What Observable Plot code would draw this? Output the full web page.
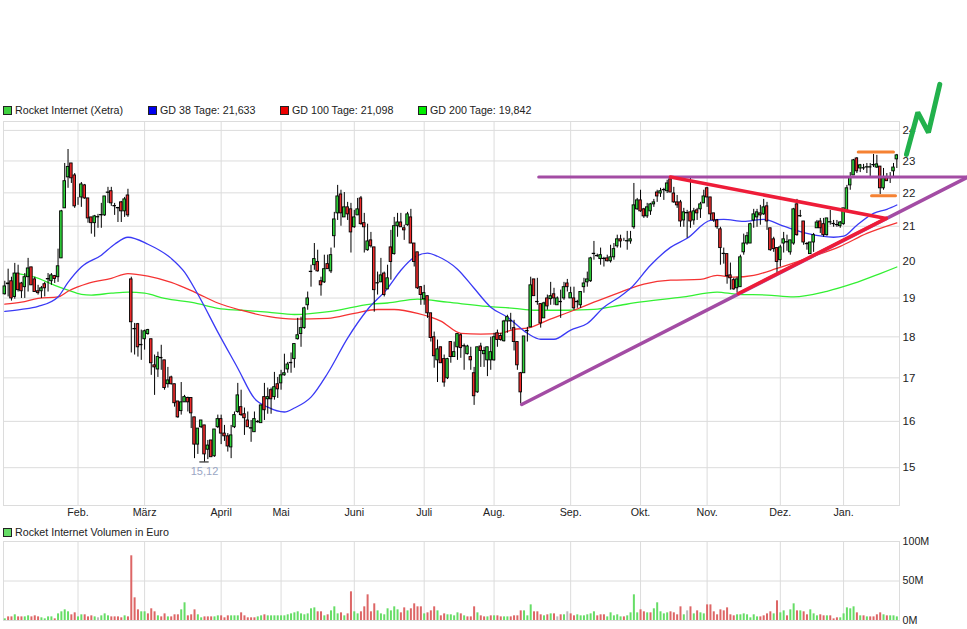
<!DOCTYPE html>
<html>
<head>
<meta charset="utf-8">
<script src="https://cdn.jsdelivr.net/npm/d3@7"></script>
<script src="https://cdn.jsdelivr.net/npm/@observablehq/plot@0.6"></script>
<style>
html,body{margin:0;padding:0;background:#fff;width:967px;height:629px;overflow:hidden;font-family:"Liberation Sans",Arial,sans-serif;}
#stage{position:relative;width:967px;height:629px;}
#priceChart,#volumeChart{position:absolute;left:0;}
#priceChart{top:70px;}
#volumeChart{top:535px;}
.legend{position:absolute;font-size:10.7px;line-height:14px;color:#222;white-space:nowrap;}
.legend i{position:absolute;left:0;top:3px;width:7px;height:7px;border:1px solid #222;}
.legend span{position:absolute;left:12px;top:0;}
</style>
</head>
<body>
<div id="stage">
<div id="priceChart"></div>
<div id="volumeChart"></div>
<div id="legends"></div>
</div>
<script>
// Each row: open, high, low, close
const candlesJan = [[19.10,19.45,19.08,19.31],[19.37,19.78,19.03,19.39],[19.45,19.56,18.92,18.99],[19.03,19.94,18.97,19.66],[19.66,19.89,19.16,19.21],[19.39,19.42,18.99,19.18],[19.29,19.66,18.99,19.56],[19.56,20.08,19.16,19.80],[19.83,19.83,19.34,19.34],[19.50,19.56,19.16,19.16],[19.18,19.34,19.08,19.13],[19.18,19.31,18.99,19.26],[19.37,19.42,19.03,19.26],[19.50,19.66,19.16,19.51],[19.45,19.66,19.34,19.61],[19.59,19.61,19.39,19.51],[19.56,20.34,19.42,19.86],[20.08,21.47,20.08,21.44],[21.53,22.92,21.53,22.36],[22.48,23.37,22.14,22.81],[22.92,22.92,22.29,22.45],[22.54,22.60,21.53,21.59]];
const candlesFeb = [[21.83,21.86,21.62,21.83],[21.86,22.32,21.56,22.26],[22.23,22.26,21.80,21.83],[21.83,21.83,21.09,21.23],[21.26,21.26,20.77,21.09],[21.09,21.32,20.68,21.29],[21.26,21.35,20.94,21.27],[21.32,21.68,20.94,21.33],[21.32,21.89,21.29,21.89],[22.00,22.17,21.68,22.01],[22.05,22.17,21.59,21.68],[21.59,21.68,21.32,21.60],[21.53,21.56,21.11,21.54],[21.71,21.74,21.11,21.44],[21.44,21.86,21.26,21.80],[21.92,22.11,21.26,21.32],[19.50,19.56,17.60,18.37],[18.19,18.34,17.55,18.20],[18.32,18.34,17.50,17.74],[17.79,18.17,17.42,17.80]];
const candlesMar = [[17.94,18.17,17.67,18.14],[18.07,18.19,18.04,18.17],[17.94,17.94,17.06,17.35],[17.30,17.55,16.59,17.25],[17.20,17.62,17.01,17.50],[17.47,17.79,17.18,17.48],[17.42,17.42,16.71,16.76],[16.85,17.25,16.76,16.94],[17.01,17.04,16.83,16.85],[16.85,16.85,16.32,16.41],[16.45,16.45,16.07,16.09],[16.23,16.89,16.14,16.43],[16.43,16.59,16.43,16.55],[16.53,16.55,16.21,16.43],[16.53,16.53,15.84,16.18],[16.09,16.09,15.19,15.49],[15.49,15.84,15.28,15.84],[15.87,16.02,15.84,16.02],[15.91,15.91,15.12,15.28],[15.38,15.58,15.17,15.47],[15.58,15.58,15.22,15.22],[15.24,15.82,15.22,15.82],[15.87,16.14,15.84,16.05]];
const candlesApr = [[16.05,16.14,15.49,15.73],[15.73,15.91,15.56,15.67],[15.67,15.73,15.33,15.45],[15.43,15.91,15.19,15.69],[15.87,16.21,15.84,16.14],[16.21,16.87,16.18,16.59],[16.32,16.71,16.11,16.14],[16.16,16.30,15.69,16.07],[16.02,16.21,15.87,15.87],[15.84,16.02,15.54,15.85],[15.76,16.21,15.76,16.05],[15.98,16.02,15.96,15.99],[15.96,16.36,15.96,16.36],[16.55,16.87,16.02,16.25],[16.50,16.76,16.16,16.55],[16.71,16.76,16.16,16.50],[16.55,17.13,16.48,16.78],[16.85,17.01,16.52,16.73]];
const candlesMai = [[16.87,17.18,16.71,17.06],[17.06,17.57,17.04,17.11],[17.20,17.37,17.11,17.32],[17.35,17.60,17.11,17.36],[17.45,17.82,17.23,17.82],[17.94,18.47,17.92,18.04],[18.07,18.50,17.74,18.22],[18.22,18.76,18.19,18.73],[18.81,19.16,18.68,18.99],[19.70,19.89,19.29,19.71],[19.89,20.50,19.75,20.06],[19.98,20.31,19.70,19.72],[19.45,19.56,19.05,19.34],[19.42,20.17,19.39,19.78],[19.92,20.17,19.78,19.78],[19.72,20.37,19.66,20.17],[20.71,21.41,20.37,21.20],[21.38,22.23,21.17,21.89],[21.95,22.08,21.00,21.38],[21.26,22.01,21.26,21.56],[21.56,21.71,21.17,21.35],[21.50,21.68,20.23,20.82]];
const candlesJun = [[20.97,21.47,20.94,21.26],[21.32,21.83,21.32,21.50],[21.83,21.89,21.03,21.06],[21.09,21.38,20.23,20.97],[20.31,21.06,20.28,20.56],[20.59,20.82,20.37,20.42],[20.39,20.39,18.63,19.21],[19.39,19.70,19.08,19.40],[19.42,20.08,19.42,19.61],[19.66,19.70,19.03,19.08],[19.23,19.89,19.23,19.53],[20.39,20.88,19.48,19.98],[20.20,21.26,20.17,21.00],[21.00,21.38,20.68,21.11],[21.11,21.38,20.97,20.97],[20.94,21.03,20.59,20.88],[21.03,21.41,21.00,21.35],[21.26,21.50,20.50,20.50],[20.50,20.50,19.84,19.98],[20.25,20.25,19.23,19.26],[19.29,19.31,18.81,19.08]];
const candlesJul = [[18.97,19.34,18.81,19.13],[19.05,19.05,18.47,18.60],[18.60,18.60,17.87,17.97],[17.99,18.12,17.23,17.52],[17.42,17.92,16.89,17.69],[17.74,17.74,17.35,17.35],[17.45,17.55,16.78,16.89],[16.99,17.47,16.96,17.45],[17.87,17.87,17.35,17.50],[17.50,17.87,17.50,17.62],[17.74,18.07,17.42,18.07],[18.04,18.07,17.47,17.72],[17.76,17.82,17.18,17.77],[17.57,17.79,17.55,17.76],[17.50,17.74,17.18,17.42],[17.11,17.25,16.36,16.57],[16.66,17.74,16.64,17.74],[17.76,17.84,17.25,17.65],[17.57,17.74,17.25,17.65],[17.42,17.74,17.03,17.74],[17.42,17.99,17.18,17.62]];
const candlesAug = [[17.42,18.09,17.40,17.99],[18.09,18.17,17.74,17.92],[18.02,18.09,17.89,17.92],[17.89,18.42,17.87,18.39],[18.39,18.55,18.09,18.50],[18.39,18.60,18.17,18.40],[18.22,18.42,17.65,17.87],[17.87,17.87,17.18,17.30],[17.11,17.13,16.39,16.66],[17.11,18.01,17.11,18.01],[18.14,18.24,17.87,18.15],[18.24,19.56,18.24,19.34],[19.50,19.50,19.05,19.05],[18.89,19.53,18.81,18.90],[18.84,18.84,18.22,18.34],[18.47,18.89,18.47,18.86],[18.99,19.08,18.68,18.78],[18.97,19.42,18.81,19.05],[19.10,19.26,18.81,18.99],[18.81,19.03,18.81,18.99],[18.89,19.21,18.47,18.90],[18.99,19.42,18.94,19.29],[19.39,19.50,19.16,19.29]];
const candlesSep = [[18.99,19.29,18.99,19.13],[18.99,19.29,18.68,18.73],[18.89,18.94,18.73,18.90],[18.81,19.16,18.73,19.16],[19.29,19.53,19.13,19.39],[19.42,19.70,19.29,19.50],[19.45,20.11,19.42,20.08],[20.20,20.56,20.03,20.21],[20.14,20.20,20.11,20.15],[20.06,20.37,19.89,20.17],[20.06,20.11,19.84,20.07],[20.08,20.17,19.98,20.00],[20.00,20.45,19.95,20.11],[20.11,20.50,20.03,20.34],[20.42,20.74,20.37,20.62],[20.62,20.74,20.37,20.56],[20.62,20.65,20.56,20.62],[20.56,20.85,20.31,20.57],[20.56,20.85,20.48,20.62],[20.97,22.29,20.91,21.62],[21.50,21.83,21.47,21.77]];
const candlesOkt = [[21.77,22.08,21.41,21.44],[21.50,21.53,21.23,21.29],[21.29,21.68,21.23,21.56],[21.44,21.68,21.32,21.65],[21.65,21.80,21.56,21.71],[22.01,22.08,21.71,21.89],[21.98,22.14,21.86,22.05],[22.08,22.14,21.77,22.09],[22.05,22.39,21.98,22.29],[22.42,22.48,22.01,22.01],[21.98,22.17,21.68,21.71],[21.71,21.92,21.53,21.62],[21.71,21.77,20.97,21.14],[21.17,21.53,20.97,21.41],[21.38,21.47,20.65,21.39],[21.41,22.48,20.94,21.14],[21.17,21.53,21.03,21.44],[21.47,21.53,21.17,21.38],[21.50,21.71,21.23,21.65],[21.68,22.08,21.68,21.89]];
const candlesNov = [[22.14,22.17,21.56,21.86],[21.86,21.86,21.17,21.35],[21.38,21.38,21.11,21.17],[21.17,21.20,20.91,20.97],[20.91,20.97,19.89,20.37],[20.20,20.37,19.92,20.21],[20.20,20.20,19.37,19.59],[19.61,19.95,19.21,19.53],[19.48,19.53,19.21,19.23],[19.26,19.56,19.13,19.50],[19.29,20.17,19.29,20.11],[20.25,20.77,20.17,20.50],[20.50,20.82,20.45,20.71],[20.50,21.09,20.50,21.06],[21.17,21.50,20.94,21.35],[21.26,21.50,20.97,21.41],[21.38,21.62,21.03,21.32],[21.35,21.80,21.32,21.56],[21.59,21.71,20.88,21.14],[20.94,20.94,20.28,20.31],[20.62,20.68,20.25,20.34],[20.37,20.37,19.66,19.98]];
const candlesDez = [[20.03,20.45,19.84,20.39],[20.50,20.82,20.23,20.62],[20.53,20.74,20.28,20.54],[20.25,20.59,20.17,20.59],[20.50,21.53,20.45,21.50],[21.65,21.80,20.71,20.74],[21.29,21.47,21.26,21.30],[21.14,21.14,20.45,20.53],[20.48,20.53,20.31,20.49],[20.20,20.53,20.20,20.53],[20.53,20.79,20.25,20.74],[20.94,21.17,20.94,21.11],[21.14,21.23,20.79,20.94],[21.06,21.23,20.68,20.74],[20.74,21.23,20.71,21.23],[21.11,21.47,21.03,21.12],[21.06,21.17,20.97,21.07],[21.03,21.17,20.97,21.04],[21.00,21.14,20.94,21.11]];
const candlesJan2 = [[21.06,21.53,21.03,21.53],[21.47,22.23,21.44,22.14],[22.23,22.63,22.08,22.48],[22.54,23.05,22.54,23.02],[23.08,23.11,22.60,22.67],[22.76,22.89,22.63,22.86],[22.76,22.89,22.70,22.77],[22.79,22.92,22.60,22.80],[22.79,22.92,22.45,22.80],[22.86,23.21,22.79,22.87],[22.79,23.18,22.76,22.89],[22.82,22.82,21.95,22.14],[22.14,22.76,22.08,22.45],[22.48,22.60,22.36,22.36],[22.45,22.63,22.29,22.46],[22.67,22.92,22.45,22.79],[23.05,23.21,22.76,23.18]];

const ma38Idx = [0,5,10,16,19,23,29,33,37,43,50,54,58,64,70,75,79,84,87,92,97,103,109,115,119,123,127,130,136,141,146,151,157,161,165,170,175,180,185,188,194,200,205,212,216,222,228,234,241,249,252,256,261,265,268];
const ma38Val = [18.65,18.70,18.78,19.03,19.42,19.84,20.17,20.48,20.68,20.48,20.08,19.70,19.10,18.12,17.23,16.52,16.32,16.21,16.30,16.55,17.11,17.97,18.70,19.26,19.75,20.11,20.23,20.14,19.78,19.26,18.76,18.50,18.09,17.94,17.94,18.17,18.34,18.76,19.05,19.26,19.89,20.39,20.65,21.17,21.20,21.14,21.20,21.00,20.79,20.68,20.71,21.03,21.38,21.50,21.63];
const ma100Idx = [0,5,10,16,19,25,32,37,43,50,57,64,71,79,87,97,105,112,117,124,131,137,143,149,153,157,163,171,177,185,188,192,200,209,214,219,225,232,241,251,259,268];
const ma100Val = [18.84,18.89,18.99,19.03,19.18,19.39,19.53,19.66,19.59,19.42,19.16,18.87,18.68,18.52,18.45,18.47,18.60,18.70,18.70,18.60,18.40,18.09,18.07,18.09,18.19,18.22,18.42,18.68,18.89,19.16,19.26,19.37,19.48,19.50,19.61,19.56,19.61,19.80,20.08,20.42,20.79,21.10];
const ma200Idx = [4,9,15,19,23,26,32,37,42,48,57,64,71,79,87,98,110,115,124,133,145,153,159,169,177,185,189,204,214,220,229,237,247,255,263,268];
const ma200Val = [19.66,19.56,19.34,19.21,19.10,19.08,19.13,19.16,19.13,18.99,18.87,18.73,18.68,18.63,18.57,18.65,18.84,18.87,18.97,18.89,18.78,18.73,18.68,18.68,18.70,18.81,18.87,19.03,19.16,19.10,19.08,19.03,19.18,19.39,19.66,19.84];

const volumeM = [2.1,4.6,4.6,7.2,4.6,4.6,4.6,5.9,4.6,5.9,4.6,3.4,2.1,4.6,4.6,2.1,8.4,11,13.5,11,7.2,9.7,4.6,7.2,7.2,4.6,5.9,4.6,3.4,5.9,8.4,5.9,4.6,4.6,4.6,3.4,5.9,4.6,81.9,28.7,13.5,11,11,8.4,14.8,11,5.9,4.6,8.4,4.6,4.6,7.2,7.2,13.5,22.4,5.9,7.2,13.5,7.2,3.4,4.6,4.6,4.6,4.6,5.9,5.9,3.4,5.9,5.9,5.9,5.9,9.7,5.9,3.4,3.4,3.4,4.6,5.9,7.2,5.9,5.9,5.9,5.9,5.9,5.9,7.2,8.4,9.7,11,8.4,7.2,8.4,14.8,16,11,11,5.9,7.2,12.2,17.3,8.4,9.7,5.9,8.4,36.3,11,8.4,11,17.3,32.5,11,21.1,12.2,8.4,7.2,14.8,12.2,17.3,13.5,9.7,16,12.2,14.8,21.1,17.3,17.3,8.4,9.7,12.2,17.3,12.2,5.9,8.4,7.2,7.2,5.9,9.7,8.4,5.9,4.6,4.6,17.3,9.7,5.9,4.6,4.6,5.9,5.9,5.9,4.6,4.6,4.6,4.6,5.9,5.9,12.2,12.2,5.9,19.8,11,11,7.2,5.9,7.2,8.4,8.4,4.6,7.2,7.2,11,8.4,5.9,7.2,5.9,5.9,7.2,8.4,11,5.9,7.2,7.2,4.6,9.7,5.9,7.2,4.6,4.6,5.9,9.7,32.5,9.7,13.5,11,9.7,9.7,14.8,22.4,11,8.4,9.7,11,9.7,7.2,17.3,7.2,12.2,17.3,8.4,12.2,9.7,8.4,19.8,19.8,11,7.2,13.5,12.2,16,7.2,5.9,7.2,7.2,8.4,7.2,3.4,7.2,4.6,4.6,5.9,8.4,11,8.4,24.9,9.7,12.2,5.9,13.5,21.1,12.2,12.2,11,7.2,13.5,8.4,5.9,7.2,5.9,5.9,5.9,2.1,3.4,3.4,8.4,16,14.8,17.3,9.7,5.9,5.9,4.6,4.6,4.6,7.2,9.7,7.2,5.9,5.9,5.9,4.6];
const volumeDir = "GRRGRRGGRR"+"RGGGGRGGGG"+"RRGGRRRGNG"+"GGRRRRGRRR"+"RGGRRRGRRG"+"RRRGGRRRGG"+"RRRGGRRRGG"+"GRRRRRGGRG"+"GGGGGGGGGG"+"GGGGRRGRGG"+"GRGRRGGRRR"+"RRGGGGGGGR"+"RGRRRRGRRR"+"GRRGGGGRGR"+"RRGRRGRGRR"+"GGRRRRGGGR"+"RRGRGRNRGN"+"RRGGGGGGRR"+"RGGGGGRGGG"+"GRRGRGGGGG"+"RRRRGNRGRG"+"GRRRRRRRRR"+"GGGGGGGRRR"+"RGRGGRGGRG"+"RRGGGRRGRR"+"RGGGGGRGRG"+"RRRRGRGGG";

const priceTicks = [15,16,17,18,19,20,21,22,23,24];
const volumeTicks = [0,50,100];
const monthStart = [22,42,65,83,105,126,147,170,191,211,233,252];
const monthLabels = ["Feb.","März","April","Mai","Juni","Juli","Aug.","Sep.","Okt.","Nov.","Dez.","Jan."];

// Trend lines, as [trading-day index, price]
const purpleFlat = [[160.4,22.49],[289.3,22.49]];
const purpleRise = [[155.3,16.38],[289.3,22.49]];
const redFall = [[200,22.49],[264.8,21.23]];
const redRise = [[220.4,19.12],[264.8,21.23]];
const orangeTop = [[256.4,23.29],[267,23.29]];
const orangeBottom = [[260.4,21.91],[267.6,21.91]];
const arrowZigzag = [[270.9,23.21],[274.3,24.61],[277.5,23.93],[280.9,25.59]];

const lowLabelIdx = 60;
const lowLabelVal = 15.12;
const lowLabelText = "15,12";

const legendTop = [["Rocket Internet (Xetra)","#3fd13f",3],["GD 38 Tage: 21,633","#0000ee",148],["GD 100 Tage: 21,098","#ee0000",280],["GD 200 Tage: 19,842","#00ee00",418]];
const legendVolume = [["Rocket Internet Volumen in Euro","#66dd66",3]];

const candles = [...candlesJan,...candlesFeb,...candlesMar,...candlesApr,...candlesMai,...candlesJun,...candlesJul,...candlesAug,...candlesSep,...candlesOkt,...candlesNov,...candlesDez,...candlesJan2]
  .map(([o,h,l,c],i)=>({i,o,h,l,c}));
const volumes = volumeM.map((v,i)=>({i,v,d:volumeDir[i]}));

const xDomain = [-0.39,268.8];
const gridColor = "#dcdcdc";
const fontStyle = {fontFamily:'"Liberation Sans",Arial,sans-serif',fontSize:"10.7px",color:"#222",background:"transparent",overflow:"visible"};

const price = Plot.plot({
  width:967,height:457,marginTop:51,marginBottom:22,marginLeft:3,marginRight:68,
  style:fontStyle,
  x:{domain:xDomain},
  y:{type:"log",domain:[14.23,24.30]},
  marks:[
    Plot.gridX(monthStart,{stroke:gridColor,strokeOpacity:1}),
    Plot.gridY(priceTicks,{stroke:gridColor,strokeOpacity:1}),
    Plot.frame({stroke:gridColor}),
    Plot.axisX(monthStart,{tickSize:0,tickPadding:3,label:null,tickFormat:d=>monthLabels[monthStart.indexOf(d)]}),
    Plot.axisY(priceTicks,{anchor:"right",tickSize:0,tickPadding:3,label:null,tickFormat:d=>String(d),fontSize:11.5}),
    Plot.line(ma200Idx,{x:ma200Idx,y:ma200Val,stroke:"#33f033",strokeWidth:1.3,curve:"monotone-x"}),
    Plot.line(ma100Idx,{x:ma100Idx,y:ma100Val,stroke:"#f53333",strokeWidth:1.3,curve:"monotone-x"}),
    Plot.line(ma38Idx,{x:ma38Idx,y:ma38Val,stroke:"#3a3af5",strokeWidth:1.3,curve:"monotone-x"}),
    Plot.ruleX(candles,{x:"i",y1:"l",y2:"h",stroke:"#000",strokeWidth:1}),
    Plot.rect(candles,{x1:d=>d.i-0.38,x2:d=>d.i+0.38,y1:"o",y2:"c",fill:d=>d.c>=d.o?"#2fd43a":"#ee2a2a",stroke:"#000",strokeWidth:0.9}),
    Plot.ruleY([lowLabelVal],{x1:lowLabelIdx-1.4,x2:lowLabelIdx+1.4,stroke:"#000",strokeWidth:1}),
    Plot.text([lowLabelText],{x:lowLabelIdx,y:lowLabelVal,dy:10,text:d=>d,fill:"#9aa6c4",fontSize:11}),
    Plot.line(purpleFlat,{x:d=>d[0],y:d=>d[1],stroke:"#a34ca4",strokeWidth:3}),
    Plot.line(purpleRise,{x:d=>d[0],y:d=>d[1],stroke:"#a34ca4",strokeWidth:3.5}),
    Plot.line(orangeTop,{x:d=>d[0],y:d=>d[1],stroke:"#f58233",strokeWidth:3}),
    Plot.line(orangeBottom,{x:d=>d[0],y:d=>d[1],stroke:"#f58233",strokeWidth:3}),
    Plot.line(redFall,{x:d=>d[0],y:d=>d[1],stroke:"#ee1c38",strokeWidth:3.5}),
    Plot.line(redRise,{x:d=>d[0],y:d=>d[1],stroke:"#ee1c38",strokeWidth:3.5}),
    Plot.line(arrowZigzag,{x:d=>d[0],y:d=>d[1],stroke:"#22b14c",strokeWidth:5,strokeLinejoin:"miter"})
  ]
});
document.getElementById("priceChart").append(price);

const volume = Plot.plot({
  width:967,height:94,marginTop:6,marginBottom:9,marginLeft:3,marginRight:68,
  style:fontStyle,
  x:{domain:xDomain},
  y:{domain:[0,100]},
  marks:[
    Plot.gridX(monthStart,{stroke:gridColor,strokeOpacity:1}),
    Plot.gridY(volumeTicks,{stroke:gridColor,strokeOpacity:1}),
    Plot.frame({stroke:gridColor}),
    Plot.axisX([],{label:null,tickSize:0}),
    Plot.axisY(volumeTicks,{anchor:"right",tickSize:0,tickPadding:3,label:null,tickFormat:d=>d+"M"}),
    Plot.ruleX(volumes,{x:"i",y1:0,y2:"v",strokeWidth:2,stroke:d=>d.d==="G"?"#66dd66":d.d==="R"?"#dd6666":"#bbbbbb"})
  ]
});
document.getElementById("volumeChart").append(volume);

function addLegend(items,top){
  const host=document.getElementById("legends");
  for(const [label,color,left] of items){
    const el=document.createElement("div");
    el.className="legend";
    el.style.left=left+"px";
    el.style.top=top+"px";
    const sw=document.createElement("i");
    sw.style.background=color;
    const tx=document.createElement("span");
    tx.textContent=label;
    el.append(sw,tx);
    host.append(el);
  }
}
addLegend(legendTop,103);
addLegend(legendVolume,525);
</script>
</body>
</html>
